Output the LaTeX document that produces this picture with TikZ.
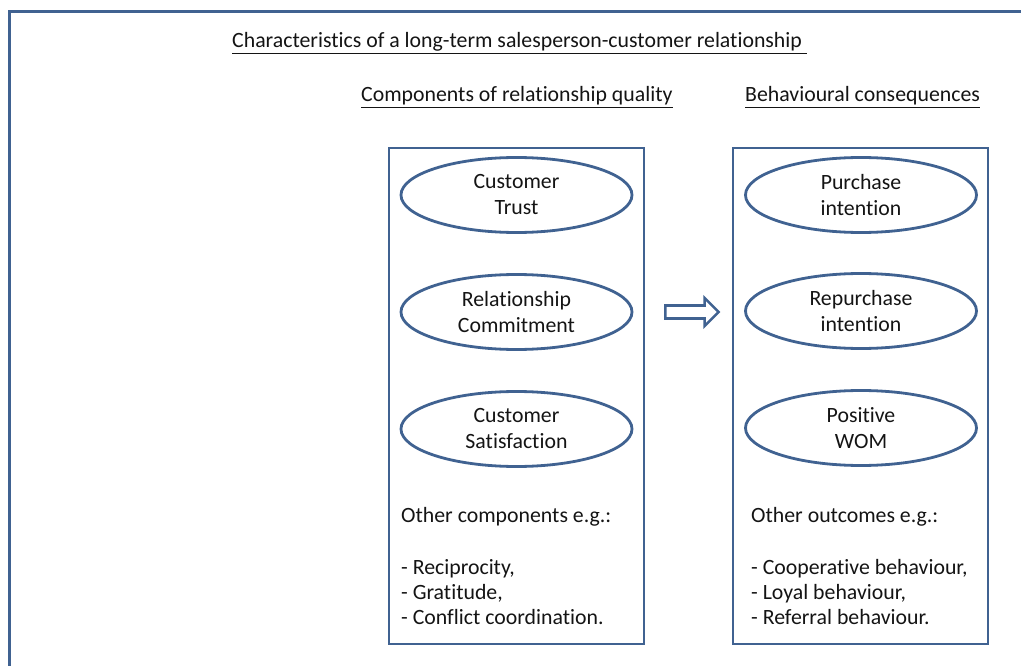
\documentclass[tikz,border=0pt]{standalone}
\usepackage{fontspec}
\setmainfont[Ligatures=NoCommon]{Carlito}
\usetikzlibrary{shapes.geometric,calc}
\definecolor{frameblue}{RGB}{64,98,145}
\definecolor{txt}{RGB}{20,20,20}
\tikzset{
  lbl/.style={font=\fontsize{21.8}{26}\selectfont, text=txt, inner sep=0pt, anchor=base west},
  col/.style={draw=frameblue, line width=2.8pt, minimum width=255pt, minimum height=496pt, inner sep=0pt},
  oval/.style={ellipse, draw=frameblue, line width=2.8pt, minimum width=231pt, minimum height=75pt, inner sep=0pt, align=center, font=\fontsize{21.8}{26}\selectfont, text=txt},
  blockarrow/.style={draw=frameblue, line width=2.6pt, fill=white, line join=miter},
}
\begin{document}
\begin{tikzpicture}[x=1pt,y=-1pt]
\useasboundingbox (0,0) rectangle (1021,666);
\clip (0,0) rectangle (1021,666);
\draw[frameblue, line width=3.2pt] (9.5,11.5) rectangle (1040,700);

\node[lbl] (title) at (232,48) {\underline{Characteristics of a long-term salesperson-customer relationship\ }};
\node[lbl] (hl) at (361,102) {\underline{Components of relationship quality}};
\node[lbl] (hr) at (745,102) {\underline{Behavioural consequences}};

\node[col] (L) at (516.5,396) {};
\node[col] (R) at (860.5,396) {};

\node[oval] (trust) at (516.5,195) {Customer\\Trust};
\node[oval] (commit) at (516.5,312) {Relationship\\Commitment};
\node[oval] (satis) at (516.5,429) {Customer\\Satisfaction};

\node[oval] (purch) at (861,195) {Purchase\\intention};
\node[oval] (repurch) at (861,311) {Repurchase\\intention};
\node[oval] (wom) at (861,428) {Positive\\WOM};

\node[lbl] (l0) at (401,522) {Other components e.g.:};
\node[lbl] (l1) at (401,574) {- Reciprocity,};
\node[lbl] (l2) at (401,599) {- Gratitude,};
\node[lbl] (l3) at (401,624) {- Conflict coordination.};

\node[lbl] (r0) at (751,522) {Other outcomes e.g.:};
\node[lbl] (r1) at (751,574) {- Cooperative behaviour,};
\node[lbl] (r2) at (751,599) {- Loyal behaviour,};
\node[lbl] (r3) at (751,624) {- Referral behaviour.};

\coordinate (a0) at ($(L.east |- commit.center)+(20,0)$);
\coordinate (a1) at ($(R.west |- commit.center)+(-13,0)$);
\draw[blockarrow] ($(a0)+(0,-6.5)$) -- ($(a1)+(-14,-6.5)$) -- ($(a1)+(-14,-14)$) -- (a1) -- ($(a1)+(-14,14)$) -- ($(a1)+(-14,6.5)$) -- ($(a0)+(0,6.5)$) -- cycle;
\end{tikzpicture}
\end{document}
